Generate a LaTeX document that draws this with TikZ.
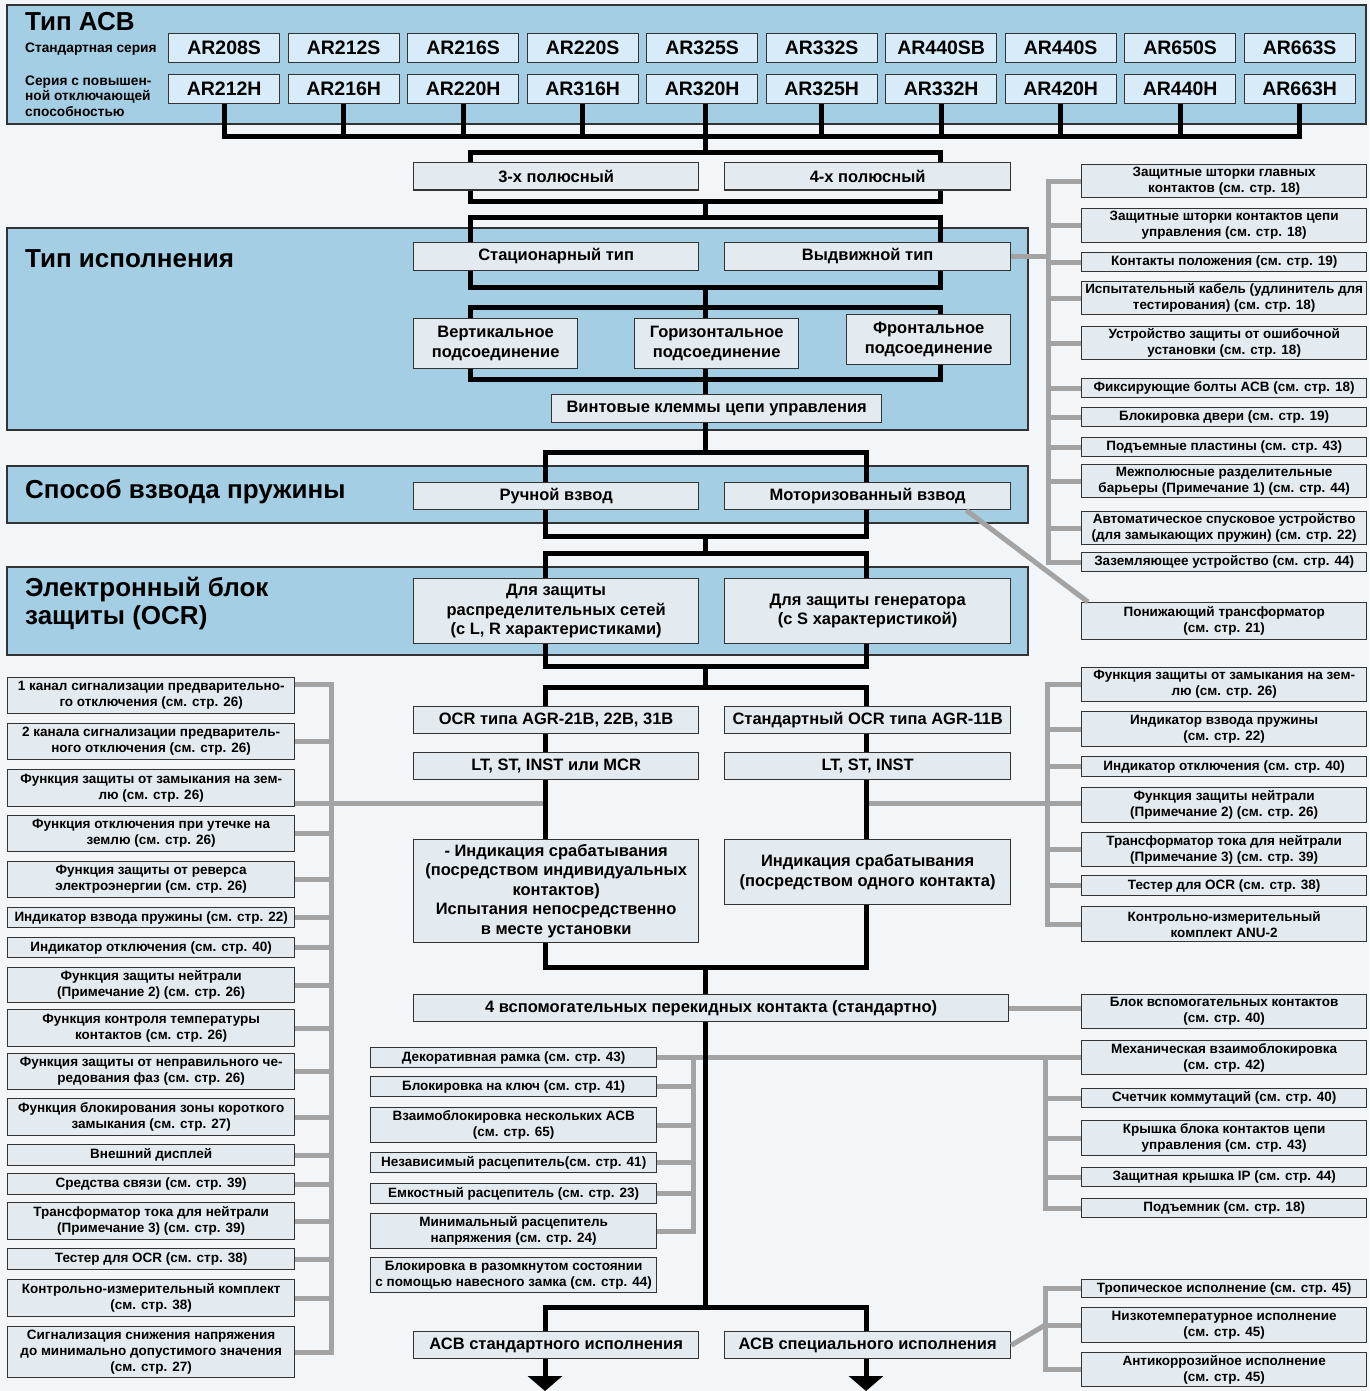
\documentclass[tikz,border=0pt]{standalone}
\usepackage{fontspec}
\setmainfont{Liberation Sans}
\usetikzlibrary{arrows.meta,calc}

\definecolor{bgcol}{HTML}{F2F6F9}
\definecolor{panelblue}{HTML}{A4CEE3}
\definecolor{arblue}{HTML}{D7ECF8}
\definecolor{boxgrey}{HTML}{E3EBF1}
\definecolor{linegrey}{HTML}{A3A3A3}
\definecolor{edge}{HTML}{333333}

\tikzset{
  panel/.style={draw=edge, line width=1.2pt, fill=panelblue},
  cellbase/.style={draw=edge, line width=1.3pt, inner sep=1pt, align=center},
  arbox/.style={cellbase, fill=arblue, font=\bfseries\fontsize{19.5}{21}\selectfont},
  mbox/.style={cellbase, fill=boxgrey, font=\bfseries\fontsize{16.5}{19.5}\selectfont},
  sbox/.style={cellbase, fill=boxgrey, font=\bfseries\fontsize{13.5}{16}\selectfont},
  ttl/.style={anchor=west, align=left, inner sep=0pt, font=\bfseries\fontsize{26}{28}\selectfont},
  sub/.style={anchor=west, align=left, inner sep=0pt, font=\bfseries\fontsize{13.7}{15.5}\selectfont},
  bus/.style={line width=5pt, black},
  gline/.style={line width=5pt, linegrey},
}

% box from its top left corner: style, name, corner, width, height, text
\newcommand{\cell}[6]{\node[#1, anchor=north west, minimum width=#4pt, minimum height=#5pt] (#2) at (#3) {#6};}

\begin{document}
\begin{tikzpicture}[x=1pt, y=-1pt]
  \fill[bgcol] (0,0) rectangle (1369,1391);
  \useasboundingbox (0,0) rectangle (1369,1391);

  % panels
  \draw[panel] (7,5) rectangle (1366,124);
  \draw[panel] (7,228) rectangle (1028,430);
  \draw[panel] (7,466) rectangle (1028,523);
  \draw[panel] (7,567) rectangle (1028,655);

  \node[ttl] (tacb) at (25,22) {Тип АСВ};
  \node[sub] (stdser) at (25,49) {Стандартная серия};
  \node[sub] (hiser) at (25,96) {Серия с повышен-\\ной отключающей\\способностью};
  \node[ttl] (tisp) at (25,259) {Тип исполнения};
  \node[ttl] (tvzv) at (25,492) {Способ взвода пружины};
  \node[ttl] (tocr) at (25,604) {Электронный блок\\защиты (OCR)};

  % ACB types
  \foreach \nm [count=\i] in {AR208S,AR212S,AR216S,AR220S,AR325S,AR332S,AR440SB,AR440S,AR650S,AR663S} {
    \pgfmathsetmacro\xx{168+119.5*(\i-1)}
    \cell{arbox}{s\i}{\xx,33}{111}{29}{\nm}
  }
  \foreach \nm [count=\i] in {AR212H,AR216H,AR220H,AR316H,AR320H,AR325H,AR332H,AR420H,AR440H,AR663H} {
    \pgfmathsetmacro\xx{168+119.5*(\i-1)}
    \cell{arbox}{h\i}{\xx,74}{111}{29}{\nm}
  }

  % main chain
  \cell{mbox}{pole3}{413,162}{285}{27.5}{3-х полюсный}
  \cell{mbox}{pole4}{724,162}{286}{27.5}{4-х полюсный}
  \cell{mbox}{stat}{413,242}{285}{27.5}{Стационарный тип}
  \cell{mbox}{withdr}{724,242}{286}{27.5}{Выдвижной тип}
  \cell{mbox}{vert}{413,318}{164}{50}{Вертикальное\\подсоединение}
  \cell{mbox}{horiz}{634,318}{164}{50}{Горизонтальное\\подсоединение}
  \cell{mbox}{front}{846,314}{164}{50}{Фронтальное\\подсоединение}
  \cell{mbox}{vint}{551,394}{330}{27.5}{Винтовые клеммы цепи управления}
  \cell{mbox}{hand}{413,482}{285}{27}{Ручной взвод}
  \cell{mbox}{motor}{724,482}{286}{27}{Моторизованный взвод}
  \cell{mbox}{distr}{413,578}{285}{65}{Для защиты\\распределительных сетей\\(с L, R характеристиками)}
  \cell{mbox}{gen}{724,578}{286}{65}{Для защиты генератора\\(с S характеристикой)}
  \cell{mbox}{ocrA}{413,706}{285}{27}{OCR типа AGR-21B, 22B, 31B}
  \cell{mbox}{ocrB}{724,706}{286}{27}{Стандартный OCR типа AGR-11B}
  \cell{mbox}{ltA}{413,752}{285}{27}{LT, ST, INST или MCR}
  \cell{mbox}{ltB}{724,752}{286}{27}{LT, ST, INST}
  \cell{mbox}{indA}{413,839}{285}{103}{- Индикация срабатывания\\(посредством индивидуальных\\контактов)\\Испытания непосредственно\\в месте установки}
  \cell{mbox}{indB}{724,839}{286}{65}{Индикация срабатывания\\(посредством одного контакта)}
  \cell{mbox}{aux}{413,994}{595}{27}{4 вспомогательных перекидных контакта (стандартно)}
  \cell{mbox}{std}{413,1331}{285}{27}{АСВ стандартного исполнения}
  \cell{mbox}{spec}{724,1331}{286}{27}{АСВ специального исполнения}

  % options, withdrawable type
  \cell{sbox}{r1}{1081,164}{285}{33}{Защитные шторки главных\\контактов (см. стр. 18)}
  \cell{sbox}{r2}{1081,208}{285}{34}{Защитные шторки контактов цепи\\управления (см. стр. 18)}
  \cell{sbox}{r3}{1081,252}{285}{19}{Контакты положения (см. стр. 19)}
  \cell{sbox}{r4}{1081,281}{285}{33}{Испытательный кабель (удлинитель для\\тестирования) (см. стр. 18)}
  \cell{sbox}{r5}{1081,326}{285}{33}{Устройство защиты от ошибочной\\установки (см. стр. 18)}
  \cell{sbox}{r6}{1081,378}{285}{19}{Фиксирующие болты АСВ (см. стр. 18)}
  \cell{sbox}{r7}{1081,407}{285}{19}{Блокировка двери (см. стр. 19)}
  \cell{sbox}{r8}{1081,437}{285}{19}{Подъемные пластины (см. стр. 43)}
  \cell{sbox}{r9}{1081,464}{285}{33}{Межполюсные разделительные\\барьеры (Примечание 1) (см. стр. 44)}
  \cell{sbox}{r10}{1081,511}{285}{33}{Автоматическое спусковое устройство\\(для замыкающих пружин) (см. стр. 22)}
  \cell{sbox}{r11}{1081,552}{285}{19}{Заземляющее устройство (см. стр. 44)}
  \cell{sbox}{r12}{1081,602}{285}{37}{Понижающий трансформатор\\(см. стр. 21)}

  % OCR options, left
  \cell{sbox}{l1}{7,677}{287}{36}{1 канал сигнализации предварительно-\\го отключения (см. стр. 26)}
  \cell{sbox}{l2}{7,723}{287}{36}{2 канала сигнализации предваритель-\\ного отключения (см. стр. 26)}
  \cell{sbox}{l3}{7,769}{287}{37}{Функция защиты от замыкания на зем-\\лю (см. стр. 26)}
  \cell{sbox}{l4}{7,815}{287}{36}{Функция отключения при утечке на\\землю (см. стр. 26)}
  \cell{sbox}{l5}{7,861}{287}{36}{Функция защиты от реверса\\электроэнергии (см. стр. 26)}
  \cell{sbox}{l6}{7,907}{287}{20}{Индикатор взвода пружины (см. стр. 22)}
  \cell{sbox}{l7}{7,937}{287}{20}{Индикатор отключения (см. стр. 40)}
  \cell{sbox}{l8}{7,967}{287}{35}{Функция защиты нейтрали\\(Примечание 2) (см. стр. 26)}
  \cell{sbox}{l9}{7,1009}{287}{37}{Функция контроля температуры\\контактов (см. стр. 26)}
  \cell{sbox}{l10}{7,1053}{287}{36}{Функция защиты от неправильного че-\\редования фаз (см. стр. 26)}
  \cell{sbox}{l11}{7,1098}{287}{37}{Функция блокирования зоны короткого\\замыкания (см. стр. 27)}
  \cell{sbox}{l12}{7,1144}{287}{21}{Внешний дисплей}
  \cell{sbox}{l13}{7,1173}{287}{21}{Средства связи (см. стр. 39)}
  \cell{sbox}{l14}{7,1202}{287}{37}{Трансформатор тока для нейтрали\\(Примечание 3) (см. стр. 39)}
  \cell{sbox}{l15}{7,1248}{287}{21}{Тестер для OCR (см. стр. 38)}
  \cell{sbox}{l16}{7,1279}{287}{37}{Контрольно-измерительный комплект\\(см. стр. 38)}
  \cell{sbox}{l17}{7,1326}{287}{51}{Сигнализация снижения напряжения\\до минимально допустимого значения\\(см. стр. 27)}

  % OCR options, right
  \cell{sbox}{q1}{1081,667}{285}{34}{Функция защиты от замыкания на зем-\\лю (см. стр. 26)}
  \cell{sbox}{q2}{1081,711}{285}{35}{Индикатор взвода пружины\\(см. стр. 22)}
  \cell{sbox}{q3}{1081,756}{285}{20}{Индикатор отключения (см. стр. 40)}
  \cell{sbox}{q4}{1081,787}{285}{35}{Функция защиты нейтрали\\(Примечание 2) (см. стр. 26)}
  \cell{sbox}{q5}{1081,832}{285}{34}{Трансформатор тока для нейтрали\\(Примечание 3) (см. стр. 39)}
  \cell{sbox}{q6}{1081,875}{285}{20}{Тестер для OCR (см. стр. 38)}
  \cell{sbox}{q7}{1081,906}{285}{35}{Контрольно-измерительный\\комплект ANU-2}

  % accessories
  \cell{sbox}{m1}{370,1047}{286}{20}{Декоративная рамка (см. стр. 43)}
  \cell{sbox}{m2}{370,1076}{286}{20}{Блокировка на ключ (см. стр. 41)}
  \cell{sbox}{m3}{370,1107}{286}{35}{Взаимоблокировка нескольких АСВ\\(см. стр. 65)}
  \cell{sbox}{m4}{370,1152}{286}{20}{Независимый расцепитель(см. стр. 41)}
  \cell{sbox}{m5}{370,1183}{286}{20}{Емкостный расцепитель (см. стр. 23)}
  \cell{sbox}{m6}{370,1213}{286}{35}{Минимальный расцепитель\\напряжения (см. стр. 24)}
  \cell{sbox}{m7}{370,1257}{286}{35}{Блокировка в разомкнутом состоянии\\с помощью навесного замка (см. стр. 44)}

  \cell{sbox}{b0}{1081,994}{285}{34}{Блок вспомогательных контактов\\(см. стр. 40)}
  \cell{sbox}{b1}{1081,1040}{285}{34}{Механическая взаимоблокировка\\(см. стр. 42)}
  \cell{sbox}{b2}{1081,1088}{285}{19}{Счетчик коммутаций (см. стр. 40)}
  \cell{sbox}{b3}{1081,1120}{285}{35}{Крышка блока контактов цепи\\управления (см. стр. 43)}
  \cell{sbox}{b4}{1081,1167}{285}{19}{Защитная крышка IP (см. стр. 44)}
  \cell{sbox}{b5}{1081,1198}{285}{19}{Подъемник (см. стр. 18)}

  \cell{sbox}{c1}{1081,1279}{285}{18}{Тропическое исполнение (см. стр. 45)}
  \cell{sbox}{c2}{1081,1307}{285}{35}{Низкотемпературное исполнение\\(см. стр. 45)}
  \cell{sbox}{c3}{1081,1352}{285}{34}{Антикоррозийное исполнение\\(см. стр. 45)}

  % grey option lines
  \coordinate (gx1) at (1048,0);
  \coordinate (gx2) at (331,0);
  \coordinate (gx3) at (1047,0);
  \coordinate (gx4) at (693,0);
  \coordinate (gx5) at (1045,0);
  \coordinate (gl) at (545,803);
  \coordinate (gr) at (866,803);
  \coordinate (l1top) at ($(l1.north east)!0.2!(l1.south east)$);

  \draw[gline] (r1.west) -| (r11.west -| gx1) -- (r11.west);
  \foreach \i in {2,...,10} \draw[gline] (r\i.west) -- (r\i.west -| gx1);
  \draw[gline] (withdr.east) -- (withdr.east -| gx1);
  \draw[gline] ($(motor.south east)+(-45,0)$) -- ($(r12.north west)+(7,0)$);

  \draw[gline] (l1top) -| (l17.east -| gx2) -- (l17.east);
  \foreach \i in {2,4,5,6,7,8,9,10,11,12,13,14,15,16} \draw[gline] (l\i.east) -- (l\i.east -| gx2);
  \draw[gline] (l3.east |- gl) -- (gl);

  \draw[gline] (q1.west) -| (q7.west -| gx3) -- (q7.west);
  \foreach \i in {2,3,5,6} \draw[gline] (q\i.west) -- (q\i.west -| gx3);
  \draw[gline] (gr) -- (gr -| q4.west);

  \draw[gline] (m1.east) -| (m6.east -| gx4) -- (m6.east);
  \foreach \i in {2,...,5} \draw[gline] (m\i.east) -- (m\i.east -| gx4);
  \draw[gline] (m1.east) -- (b1.west);
  \draw[gline] (b1.west) -| (b5.west -| gx5) -- (b5.west);
  \foreach \i in {2,...,4} \draw[gline] (b\i.west) -- (b\i.west -| gx5);
  \draw[gline] (aux.east) -- (aux.east -| b0.west);

  \draw[gline] (c1.west) -| (c3.west -| gx5) -- (c3.west);
  \draw[gline] (c2.west) -- (c2.west -| gx5);
  \draw[gline] (spec.east) -- (c2.west -| gx5);

  % black main line
  \coordinate (xl) at (470,0);
  \coordinate (xr) at (940,0);
  \coordinate (xl2) at (545,0);
  \coordinate (xr2) at (866,0);
  \coordinate (bot) at (0,1391);
  \coordinate (j0) at (705,137);
  \coordinate (j1) at (705,153);
  \coordinate (j2) at (705,201);
  \coordinate (j3) at (705,217);
  \coordinate (j4) at (705,287);
  \coordinate (j5) at (705,307);
  \coordinate (j6) at (705,379);
  \coordinate (j7) at (705,452);
  \coordinate (j8) at (705,536);
  \coordinate (j9) at (705,553);
  \coordinate (j10) at (705,666);
  \coordinate (j11) at (705,687);
  \coordinate (j12) at (705,967);
  \coordinate (j13) at (705,1307);

  \draw[bus] (h1.south) |- (j0) -| (h10.south);
  \foreach \i in {2,3,4,6,7,8,9} \draw[bus] (h\i.south) -- (h\i.south |- j0);
  \draw[bus] (h5.south -| j0) -- (j1);
  \draw[bus] (pole3.north -| xl) |- (j1) -| (pole4.north -| xr);
  \draw[bus] (pole3.south -| xl) |- (j2) -| (pole4.south -| xr);
  \draw[bus] (j2) -- (j3);
  \draw[bus] (stat.north -| xl) |- (j3) -| (withdr.north -| xr);
  \draw[bus] (stat.south -| xl) |- (j4) -| (withdr.south -| xr);
  \draw[bus] (j4) -- (j5);
  \draw[bus] (vert.north -| xl) |- (j5) -| (front.north -| xr);
  \draw[bus] (j5) -- (horiz.north -| j5);
  \draw[bus] (vert.south -| xl) |- (j6) -| (front.south -| xr);
  \draw[bus] (horiz.south -| j6) -- (j6) -- (vint.north -| j6);
  \draw[bus] (vint.south -| j7) -- (j7);
  \draw[bus] (hand.north -| xl2) |- (j7) -| (motor.north -| xr2);
  \draw[bus] (hand.south -| xl2) |- (j8) -| (motor.south -| xr2);
  \draw[bus] (j8) -- (j9);
  \draw[bus] (distr.north -| xl2) |- (j9) -| (gen.north -| xr2);
  \draw[bus] (distr.south -| xl2) |- (j10) -| (gen.south -| xr2);
  \draw[bus] (j10) -- (j11);
  \draw[bus] (ocrA.north -| xl2) |- (j11) -| (ocrB.north -| xr2);
  \draw[bus] (ocrA.south -| xl2) -- (ltA.north -| xl2);
  \draw[bus] (ocrB.south -| xr2) -- (ltB.north -| xr2);
  \draw[bus] (ltA.south -| xl2) -- (indA.north -| xl2);
  \draw[bus] (ltB.south -| xr2) -- (indB.north -| xr2);
  \draw[bus] (indA.south -| xl2) |- (j12) -| (indB.south -| xr2);
  \draw[bus] (j12) -- (aux.north -| j12);
  \draw[bus] (aux.south -| j13) -- (j13);
  \draw[bus] (std.north -| xl2) |- (j13) -| (spec.north -| xr2);
  \draw[bus, -{Triangle[width=34pt,length=15pt]}] (std.south -| xl2) -- (xl2 |- bot);
  \draw[bus, -{Triangle[width=34pt,length=15pt]}] (spec.south -| xr2) -- (xr2 |- bot);
\end{tikzpicture}
\end{document}
